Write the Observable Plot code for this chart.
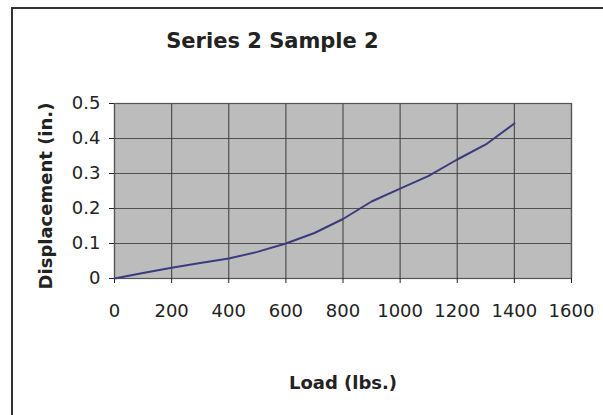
<!DOCTYPE html>
<html>
<head>
<meta charset="utf-8">
<script src="https://cdn.jsdelivr.net/npm/d3@7"></script>
<script src="https://cdn.jsdelivr.net/npm/@observablehq/plot@0.6"></script>
<style>
  html, body { margin: 0; padding: 0; background: #fff; }
  #wrap { position: relative; width: 603px; height: 415px; overflow: hidden; background: #fff; }
  #border { position: absolute; left: 11px; top: 7px; width: 620px; height: 430px;
            border-left: 2.5px solid #333; border-top: 2.5px solid #333; }
  #title { position: absolute; left: 0; width: 545px; top: 29px; text-align: center;
           font-family: "DejaVu Sans", sans-serif; font-weight: bold; font-size: 21px; color: #222; }
  #chart { position: absolute; left: 0; top: 0; }
</style>
</head>
<body>
<div id="wrap">
  <div id="border"></div>
  <div id="title">Series 2 Sample 2</div>
  <div id="chart"></div>
</div>
<script>
const loads = [0, 100, 200, 300, 400, 500, 600, 700, 800, 900, 1000, 1100, 1200, 1300, 1400];
const displacements = [0, 0.016, 0.031, 0.044, 0.057, 0.076, 0.1, 0.13, 0.17, 0.22, 0.257, 0.293, 0.34, 0.383, 0.443];
const xTicks = [0, 200, 400, 600, 800, 1000, 1200, 1400, 1600];
const yTicks = [0, 0.1, 0.2, 0.3, 0.4, 0.5];

const data = loads.map((x, i) => ({load: x, disp: displacements[i]}));
const yFmt = d => d === 0 ? "0" : d3.format(".1f")(d);

const plot = Plot.plot({
  width: 603,
  height: 415,
  marginTop: 103,
  marginBottom: 137,
  marginLeft: 114,
  marginRight: 32,
  style: {fontFamily: "DejaVu Sans, sans-serif", fontSize: "18px", color: "#222", background: "transparent"},
  x: {domain: [0, 1600], label: null},
  y: {domain: [0, 0.5], label: null},
  marks: [
    Plot.frame({fill: "#bcbcbc", stroke: "none"}),
    Plot.gridX(xTicks, {stroke: "#444", strokeOpacity: 0.9, strokeWidth: 1.2}),
    Plot.gridY(yTicks, {stroke: "#444", strokeOpacity: 0.9, strokeWidth: 1.2}),
    Plot.frame({stroke: "#555", strokeWidth: 1.2}),
    Plot.axisX({ticks: xTicks, tickSize: 5, tickPadding: 21, label: null, fontSize: 18, tickFormat: d => String(d)}),
    Plot.axisY({ticks: yTicks, tickSize: 5, tickPadding: 9, label: null, fontSize: 18, tickFormat: yFmt}),
    Plot.line(data, {x: "load", y: "disp", stroke: "#3b3b7e", strokeWidth: 2}),
    Plot.text(["Load (lbs.)"], {frameAnchor: "bottom", dy: 110, fontWeight: "bold", fontSize: 18, fill: "#222"}),
    Plot.text(["Displacement (in.)"], {frameAnchor: "left", textAnchor: "middle", dx: -68, dy: 5, rotate: -90, fontWeight: "bold", fontSize: 18, fill: "#222"})
  ]
});
document.getElementById("chart").appendChild(plot);
</script>
</body>
</html>
